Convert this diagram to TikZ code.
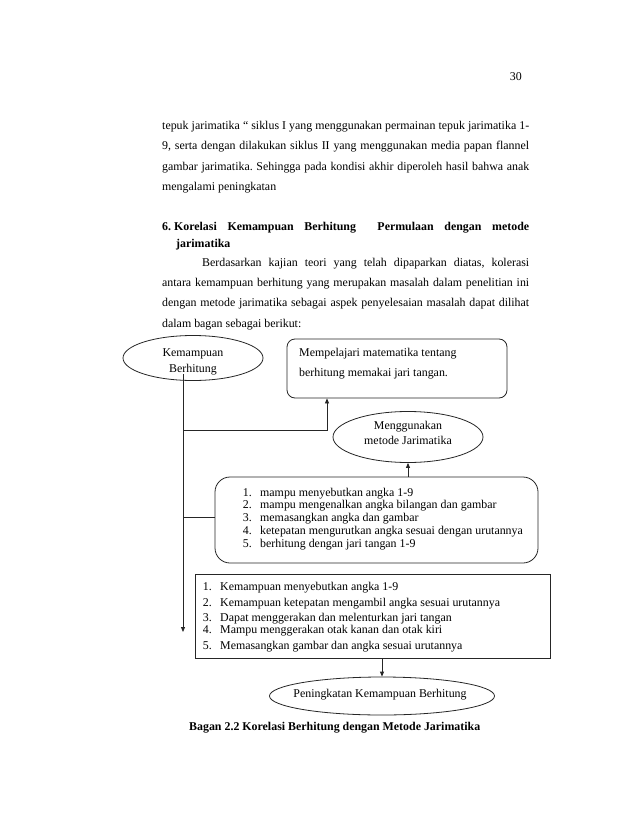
\documentclass[tikz,border=0pt]{standalone}
\usepackage{fontspec}
\setmainfont{Liberation Serif}
\usetikzlibrary{arrows.meta,shapes.geometric}
\frenchspacing
\begin{document}
\begin{tikzpicture}[x=1pt,y=-1pt,
  txt/.style={anchor=base west,inner sep=0pt,font=\fontsize{11.9}{14}\selectfont},
  btxt/.style={anchor=base west,inner sep=0pt,font=\fontsize{11.9}{14}\selectfont\bfseries},
  num/.style={anchor=base east,inner sep=0pt,font=\fontsize{11.9}{14}\selectfont},
  ln/.style={line width=0.8pt,draw=black!85},
  arr/.style={ln,-{Triangle[length=5pt,width=4pt]}},
  ell/.style={ellipse,draw=black!85,line width=0.8pt,inner sep=0pt,align=center,font=\fontsize{11.9}{15}\selectfont},
  ctxt/.style={inner sep=0pt,align=center,font=\fontsize{11.9}{15.5}\selectfont},
  rbox/.style={draw=black!85,line width=0.8pt,rounded corners=8pt,inner sep=0pt},
  sbox/.style={draw=black!85,line width=0.8pt,inner sep=0pt}]
\useasboundingbox[fill=white] (0,0) rectangle (638,826);

% page number
\node[anchor=base east,inner sep=0pt,font=\fontsize{11.9}{14}\selectfont] (pg) at (522,81) {30};

% body text
\node[txt] (t1) at (162,130) {\makebox[367pt][s]{tepuk jarimatika “ siklus I yang menggunakan permainan tepuk jarimatika 1-}};
\node[txt] (t2) at (162,150) {\makebox[367pt][s]{9, serta dengan dilakukan siklus II yang menggunakan media papan flannel}};
\node[txt] (t3) at (162,171) {\makebox[367pt][s]{gambar jarimatika. Sehingga pada kondisi akhir diperoleh hasil bahwa anak}};
\node[txt] (t4) at (162,191) {mengalami peningkatan};
\node[btxt] (h1) at (162,230) {\makebox[367pt][s]{\mbox{6. Korelasi} Kemampuan Berhitung\ \ Permulaan dengan metode}};
\node[btxt] (h2) at (176,247) {jarimatika};
\node[txt] (p1) at (202,266) {\makebox[327pt][s]{Berdasarkan kajian teori yang telah dipaparkan diatas, kolerasi}};
\node[txt] (p2) at (162,286) {\makebox[367pt][s]{antara kemampuan berhitung yang merupakan masalah dalam penelitian ini}};
\node[txt] (p3) at (162,306) {\makebox[367pt][s]{dengan metode jarimatika sebagai aspek penyelesaian masalah dapat dilihat}};
\node[txt] (p4) at (162,327) {dalam bagan sebagai berikut:};

% diagram nodes
\node[ell,minimum width=140pt,minimum height=45pt] (e1) at (193,358) {};
\node[ctxt] (e1t) at (193,362) {Kemampuan\\Berhitung};
\node[rbox,minimum width=220pt,minimum height=59pt] (b1) at (397,368.5) {};
\node[txt] (b1a) at (299,356) {Mempelajari matematika tentang};
\node[txt] (b1b) at (299,376) {berhitung memakai jari tangan.};
\node[ell,minimum width=150pt,minimum height=51pt] (e2) at (408,437) {};
\node[ctxt] (e2t) at (408,433) {Menggunakan\\metode Jarimatika};

\node[rbox,rounded corners=15pt,minimum width=323pt,minimum height=86pt] (l1) at (376.5,520) {};
\node[num] (l1n1) at (252,496) {1.}; \node[txt] (l1t1) at (260,496) {mampu menyebutkan angka 1-9};
\node[num] (l1n2) at (252,508.5) {2.}; \node[txt] (l1t2) at (260,508.5) {mampu mengenalkan angka bilangan dan gambar};
\node[num] (l1n3) at (252,521) {3.}; \node[txt] (l1t3) at (260,521) {memasangkan angka dan gambar};
\node[num] (l1n4) at (252,534) {4.}; \node[txt] (l1t4) at (260,534) {ketepatan mengurutkan angka sesuai dengan urutannya};
\node[num] (l1n5) at (252,547) {5.}; \node[txt] (l1t5) at (260,547) {berhitung dengan jari tangan 1-9};

\node[sbox,minimum width=355pt,minimum height=84pt] (l2) at (372.5,616.5) {};
\node[num] (l2n1) at (212,590) {1.}; \node[txt] (l2t1) at (220,590) {Kemampuan menyebutkan angka 1-9};
\node[num] (l2n2) at (212,606) {2.}; \node[txt] (l2t2) at (220,606) {Kemampuan ketepatan mengambil angka sesuai urutannya};
\node[num] (l2n3) at (212,621) {3.}; \node[txt] (l2t3) at (220,621) {Dapat menggerakan dan melenturkan jari tangan};
\node[num] (l2n4) at (212,633.5) {4.}; \node[txt] (l2t4) at (220,633.5) {Mampu menggerakan otak kanan dan otak kiri};
\node[num] (l2n5) at (212,649) {5.}; \node[txt] (l2t5) at (220,649) {Memasangkan gambar dan angka sesuai urutannya};

\node[ell,minimum width=225pt,minimum height=38pt] (e3) at (382,696) {};
\node[ctxt] (e3t) at (380,695) {Peningkatan Kemampuan Berhitung};

\node[btxt] (cap) at (189,730) {Bagan 2.2 Korelasi Berhitung dengan Metode Jarimatika};

% connectors
\coordinate (v0) at (183,374);
\coordinate (vend) at (183,632);
\coordinate (j1) at (183,430);
\coordinate (j1r) at (327,430);
\coordinate (j2) at (183,517);
\draw[arr] (v0) -- (vend);
\draw[arr] (j1) -- (j1r) -- (j1r |- b1.south);
\draw[ln] (j2) -- (j2 -| l1.west);
\draw[arr] (e2.south |- l1.north) -- (e2.south);
\draw[arr] (e3.north |- l2.south) -- (e3.north);
\end{tikzpicture}
\end{document}
